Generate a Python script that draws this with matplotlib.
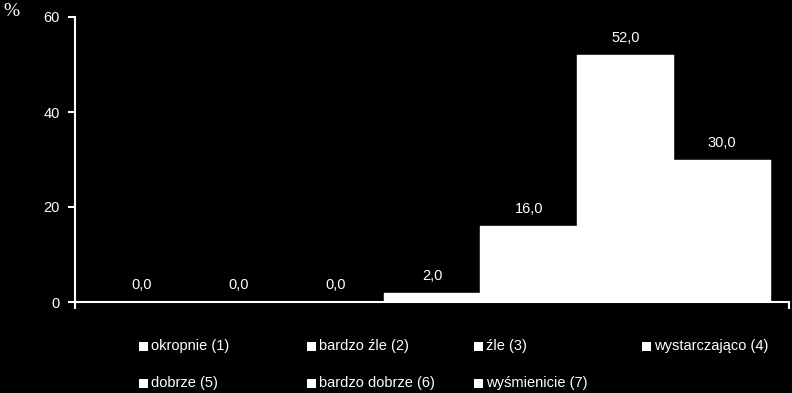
import matplotlib.pyplot as plt
from matplotlib.patches import Rectangle

categories = ['okropnie (1)', 'bardzo źle (2)', 'źle (3)', 'wystarczająco (4)',
              'dobrze (5)', 'bardzo dobrze (6)', 'wyśmienicie (7)']
values = [0.0, 0.0, 0.0, 2.0, 16.0, 52.0, 30.0]
yticks = [0, 20, 40, 60]

plt.rcParams['font.family'] = ['Liberation Sans', 'DejaVu Sans']

W, H = 792, 393
fig = plt.figure(figsize=(W / 100, H / 100), dpi=100, facecolor='black')
ax = fig.add_axes([75 / W, 91 / H, (789 - 75) / W, (302 - 17) / H])
ax.set_facecolor('black')

x = list(range(len(values)))
ax.bar(x, values, width=1.0, color='white', edgecolor='white', linewidth=0.3, zorder=2)

for xi, v in zip(x, values):
    ax.annotate(f'{v:.1f}'.replace('.', ','), (xi, v), xytext=(0, 7),
                textcoords='offset points', ha='center', va='bottom',
                color='white', fontsize=10.5)

pad = 0.19
ax.set_xlim(-0.5 - pad, len(values) - 0.5 + pad)
ax.set_ylim(0, 60)
ax.set_yticks(yticks)
ax.set_xticks([-0.5 - pad, len(values) - 0.5 + pad])
ax.set_xticklabels([])
ax.tick_params(axis='both', colors='white', direction='out', length=5, width=1.5,
               labelsize=10.5, pad=6)
for side in ['top', 'right']:
    ax.spines[side].set_visible(False)
for side in ['left', 'bottom']:
    ax.spines[side].set_color('white')
    ax.spines[side].set_linewidth(1.5)
ax.spines['bottom'].set_zorder(3)

fig.text(3 / W, 1 - 11 / H, '%', color='white', fontsize=14, va='center', ha='left',
         family='Liberation Serif')

# legend laid out in 4 evenly spaced columns
col_x = [139, 307, 474, 642]
row_y = [346, 383]
for i, name in enumerate(categories):
    cx = col_x[i % 4]
    cy = row_y[i // 4]
    fig.patches.append(Rectangle(((cx) / W, 1 - (cy + 4.5) / H), 9 / W, 9 / H,
                                 transform=fig.transFigure, facecolor='white',
                                 edgecolor='none'))
    fig.text((cx + 12) / W, 1 - cy / H, name, color='white', fontsize=10.5,
             va='center', ha='left')

fig.savefig('out.png', dpi=100, facecolor='black')
